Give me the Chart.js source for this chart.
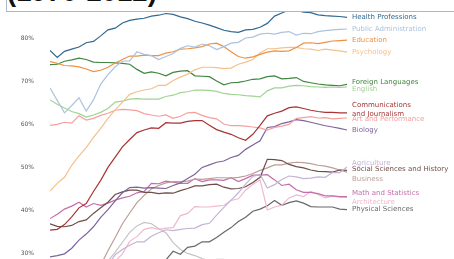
<!DOCTYPE html>
<html>
<head>
<meta charset="utf-8">
<script src="https://cdn.jsdelivr.net/npm/chart.js@4.4.0/dist/chart.umd.min.js"></script>
<style>
  html, body { margin: 0; padding: 0; background: #fff; }
  #wrap { position: relative; width: 454px; height: 259px; overflow: hidden; }
  #chart { display: block; }
  #titleBox { position: absolute; left: 6px; top: -30px; width: 470px; height: 40px; background: #fff; border: 1px solid #a7b9cc; z-index: 2; }
  #titleText { position: absolute; left: 7px; top: -20px; font: bold 27.5px 'Liberation Sans', Arial, sans-serif; line-height: 23px; color: #111; z-index: 3; white-space: nowrap; }
</style>
</head>
<body>
<div id="wrap">
  <canvas id="chart" width="454" height="259"></canvas>
  <div id="titleBox"></div>
  <div id="titleText">(1970-2012)</div>
</div>
<script>
// years 1970..2011
const years = [];
for (let y = 1970; y <= 2011; y++) years.push(y);

const yTicks = [30, 40, 50, 60, 70, 80];

// percent of bachelor's degrees conferred to women, by major
const healthProfessions = [77.1, 75.5, 76.9, 77.4, 77.9, 78.9, 79.2, 80.5, 81.9, 82.3, 83.5, 84.1, 84.4, 84.6, 85.1, 85.3, 85.7, 85.5, 84.9, 84.5, 83.9, 83.5, 83.0, 82.4, 81.8, 81.5, 81.3, 81.9, 82.0, 82.5, 83.4, 85.1, 85.8, 86.5, 86.5, 86.0, 85.9, 85.4, 85.2, 85.1, 85.0, 84.8];
const publicAdministration = [68.4, 65.5, 62.6, 64.3, 66.1, 63.0, 65.6, 69.3, 71.5, 73.3, 74.6, 74.7, 76.8, 76.2, 75.9, 75.0, 75.7, 76.4, 77.6, 78.2, 77.9, 78.6, 78.2, 77.3, 78.0, 78.8, 79.0, 80.0, 80.2, 80.9, 81.1, 80.9, 81.3, 81.5, 80.7, 81.1, 81.0, 81.5, 81.7, 81.9, 82.0, 82.1];
const education = [74.5, 74.1, 73.6, 73.5, 73.3, 72.8, 72.2, 72.5, 73.2, 74.2, 75.0, 75.8, 75.8, 76.0, 75.9, 75.9, 76.5, 76.8, 77.4, 77.5, 77.7, 78.0, 78.6, 78.8, 78.0, 76.8, 75.7, 75.3, 75.6, 76.2, 76.7, 77.0, 76.9, 77.0, 77.8, 78.8, 78.9, 78.7, 79.0, 79.3, 79.4, 79.5];
const psychology = [44.4, 46.2, 47.6, 50.4, 52.6, 54.5, 56.9, 59.0, 61.3, 63.3, 65.1, 66.9, 67.5, 67.9, 68.2, 69.0, 69.0, 70.1, 70.9, 71.6, 72.6, 73.2, 73.2, 73.1, 72.9, 73.0, 73.9, 74.4, 75.0, 76.5, 77.5, 77.5, 77.7, 77.8, 77.8, 77.5, 77.4, 77.1, 77.4, 77.2, 77.0, 76.7];
const foreignLanguages = [73.8, 73.9, 74.6, 74.9, 75.3, 75.0, 74.4, 74.3, 74.3, 74.2, 74.1, 73.9, 72.7, 71.8, 72.1, 71.8, 71.2, 72.0, 72.3, 72.4, 71.2, 71.1, 71.0, 70.0, 69.1, 69.6, 69.7, 70.0, 70.4, 70.5, 71.0, 71.2, 70.5, 70.6, 70.8, 69.9, 69.6, 69.3, 69.1, 69.0, 68.9, 69.2];
const english = [65.6, 64.6, 63.7, 62.9, 62.4, 61.6, 62.1, 62.7, 63.6, 65.1, 65.3, 65.8, 65.9, 65.8, 65.8, 65.8, 66.4, 66.7, 67.3, 67.5, 67.9, 67.9, 67.8, 67.6, 67.1, 66.9, 66.8, 66.6, 66.5, 66.3, 67.7, 68.4, 68.4, 68.8, 69.0, 68.9, 68.7, 68.6, 68.5, 68.6, 68.5, 68.6];
const communications = [35.3, 35.5, 36.6, 38.4, 40.5, 41.5, 44.3, 46.9, 49.9, 52.3, 54.7, 56.4, 58.0, 58.6, 59.1, 59.0, 60.3, 60.2, 60.2, 60.6, 60.8, 60.8, 59.7, 58.7, 58.1, 57.6, 56.8, 56.2, 57.6, 59.7, 61.9, 62.5, 63.0, 63.8, 64.0, 63.6, 63.2, 62.9, 62.7, 62.7, 62.6, 62.6];
const artPerformance = [59.7, 59.9, 60.4, 60.2, 61.9, 60.9, 61.3, 62.0, 62.5, 63.2, 63.4, 63.3, 63.1, 62.4, 62.1, 61.8, 62.1, 61.3, 61.8, 62.6, 62.7, 62.0, 61.5, 61.2, 60.0, 59.6, 59.6, 59.5, 59.3, 59.1, 58.6, 59.2, 59.5, 59.9, 61.3, 61.5, 61.7, 61.4, 61.5, 61.2, 61.3, 61.4];
const biology = [29.1, 29.4, 29.8, 31.1, 33.0, 34.4, 36.1, 38.3, 40.1, 42.1, 44.0, 45.2, 45.3, 45.1, 45.2, 45.1, 45.0, 45.7, 46.3, 47.3, 48.3, 49.9, 50.5, 51.1, 51.4, 52.2, 52.7, 54.1, 55.1, 56.1, 59.2, 59.4, 60.1, 60.5, 61.0, 60.8, 60.4, 60.0, 59.6, 59.3, 59.0, 58.6];
const agriculture = [4.2, 5.5, 7.4, 9.7, 14.1, 18.3, 22.3, 24.6, 27.1, 29.6, 30.8, 31.8, 32.6, 32.6, 33.9, 34.7, 35.4, 35.2, 35.5, 35.7, 35.8, 36.6, 36.9, 38.8, 40.6, 42.3, 44.0, 46.0, 47.8, 48.3, 45.1, 45.9, 47.1, 47.9, 47.7, 47.3, 47.4, 47.7, 47.6, 48.7, 48.7, 50.0];
const socialSciences = [36.8, 36.2, 36.1, 36.4, 37.3, 37.7, 39.2, 40.5, 41.8, 43.6, 44.2, 44.6, 44.6, 44.1, 44.1, 43.8, 44.0, 43.9, 44.5, 45.0, 45.6, 45.6, 45.9, 46.0, 45.3, 44.9, 45.0, 45.4, 46.4, 47.6, 51.8, 51.7, 51.5, 50.6, 50.1, 49.8, 49.3, 49.0, 48.9, 48.8, 49.3, 49.2];
const business = [9.1, 9.5, 10.6, 12.8, 16.2, 19.7, 23.4, 27.2, 30.5, 33.6, 36.8, 39.3, 41.7, 43.4, 44.9, 45.7, 46.3, 46.6, 46.6, 46.7, 47.2, 47.1, 47.3, 47.5, 47.5, 47.4, 47.6, 47.9, 48.5, 49.2, 49.8, 50.5, 50.5, 50.9, 51.1, 51.0, 50.8, 50.4, 50.2, 49.8, 49.3, 48.8];
const mathStatistics = [38.0, 39.0, 40.2, 40.9, 41.8, 40.7, 41.5, 41.1, 41.6, 42.3, 42.8, 43.2, 44.0, 44.3, 46.2, 46.1, 46.7, 46.5, 46.2, 46.2, 47.3, 46.6, 47.0, 47.0, 46.9, 47.5, 46.6, 47.3, 48.1, 48.1, 48.2, 47.0, 45.7, 46.0, 44.7, 44.1, 44.1, 43.8, 43.3, 43.3, 43.1, 43.1];
const architecture = [11.9, 12.0, 13.2, 14.8, 17.4, 19.1, 21.4, 23.7, 25.8, 28.1, 29.8, 32.7, 33.8, 35.5, 35.9, 35.5, 35.8, 35.9, 38.7, 39.2, 40.8, 40.7, 40.7, 40.9, 41.1, 42.2, 42.6, 44.6, 46.0, 47.0, 40.0, 40.7, 41.1, 42.8, 43.5, 43.1, 44.3, 43.6, 42.8, 43.2, 43.0, 42.9];
const physicalSciences = [13.8, 14.9, 14.8, 16.5, 18.2, 19.1, 20.0, 21.3, 22.5, 23.7, 24.6, 25.7, 27.3, 27.6, 28.0, 27.5, 28.4, 30.4, 29.7, 31.3, 31.6, 32.6, 32.6, 33.6, 34.8, 35.9, 37.3, 38.3, 39.7, 40.2, 41.0, 42.2, 41.1, 41.7, 42.1, 41.6, 40.8, 40.7, 40.7, 40.7, 40.2, 40.1];
const computerScience = [13.6, 13.6, 14.9, 16.4, 18.9, 19.8, 23.9, 25.7, 28.1, 30.2, 32.5, 34.8, 36.3, 37.1, 36.8, 35.7, 34.7, 32.4, 30.8, 29.9, 29.4, 28.7, 28.2, 28.5, 28.5, 27.5, 27.1, 27.1, 26.8, 27.0, 27.7, 27.6, 27.0, 25.1, 22.2, 20.6, 18.6, 17.6, 17.8, 18.1, 17.6, 18.2];
const engineering = [0.8, 1.0, 1.2, 1.6, 2.2, 3.2, 4.5, 6.8, 8.4, 9.4, 10.3, 11.6, 12.4, 13.1, 13.5, 13.5, 13.9, 14.0, 13.9, 14.1, 14.1, 14.0, 14.5, 14.9, 15.7, 16.2, 16.7, 17.6, 18.3, 18.6, 18.4, 19.0, 18.7, 18.8, 18.2, 18.0, 17.4, 17.0, 17.1, 16.8, 17.2, 17.5];

const majors = [
  'Health Professions', 'Public Administration', 'Education', 'Psychology',
  'Foreign Languages', 'English', 'Communications\nand Journalism', 'Art and Performance',
  'Biology', 'Agriculture', 'Social Sciences and History', 'Business',
  'Math and Statistics', 'Architecture', 'Physical Sciences', 'Computer Science', 'Engineering'
];
const series = [
  healthProfessions, publicAdministration, education, psychology,
  foreignLanguages, english, communications, artPerformance,
  biology, agriculture, socialSciences, business,
  mathStatistics, architecture, physicalSciences, computerScience, engineering
];

// tableau 20, a bit washed out like the scan
const colors = [
  'rgb(50,104,145)', 'rgb(172,194,222)', 'rgb(236,146,66)', 'rgb(244,192,140)',
  'rgb(64,134,64)', 'rgb(160,212,146)', 'rgb(168,52,52)', 'rgb(244,160,158)',
  'rgb(124,100,156)', 'rgb(196,180,212)', 'rgb(112,78,72)', 'rgb(188,158,150)',
  'rgb(196,110,170)', 'rgb(240,184,208)', 'rgb(104,104,104)', 'rgb(196,196,196)',
  'rgb(180,180,50)'
];

// nudge overlapping end labels (in % units)
const labelShift = [0, 0, 0, 0, 0.5, -0.5, 0.75, -0.25, 0, 1.0, 0.25, -1.6, 0.75, -1.0, 0, 0.75, -0.25];

const endLabels = {
  id: 'endLabels',
  afterDatasetsDraw(chart) {
    const ctx = chart.ctx;
    const xs = chart.scales.x, ys = chart.scales.y;
    ctx.save();
    ctx.font = '7px "DejaVu Sans"';
    ctx.textBaseline = 'middle';
    ctx.textAlign = 'left';
    series.forEach((s, i) => {
      const last = s[s.length - 1];
      const x = xs.getPixelForValue(years[years.length - 1]) + 5;
      const y = ys.getPixelForValue(last + labelShift[i]);
      const lines = majors[i].split('\n');
      ctx.fillStyle = colors[i];
      lines.forEach((t, k) => {
        ctx.fillText(t, x, y + (k - (lines.length - 1) / 2) * 8.5);
      });
    });
    ctx.restore();
  }
};

new Chart(document.getElementById('chart'), {
  type: 'line',
  data: {
    labels: years,
    datasets: series.map((s, i) => ({
      label: majors[i],
      data: s.map((v, k) => ({ x: years[k], y: v })),
      borderColor: colors[i],
      borderWidth: 1.2,
      pointRadius: 0,
      tension: 0,
      fill: false
    }))
  },
  options: {
    responsive: false,
    animation: false,
    layout: { padding: { left: 0, right: 107, top: 0, bottom: 0 } },
    plugins: { legend: { display: false }, tooltip: { enabled: false }, title: { display: false } },
    scales: {
      x: { type: 'linear', min: 1970, max: 2011, display: false },
      y: {
        min: 28.6, max: 88.84,
        afterBuildTicks: s => { s.ticks = yTicks.map(v => ({ value: v })); },
        afterFit: s => { s.width = 50; s.paddingTop = 0; s.paddingBottom = 0; },
        border: { display: false },
        grid: { display: false, drawTicks: false },
        ticks: { padding: 16, color: '#555', font: { size: 6, family: 'DejaVu Sans' }, callback: v => v + '%' }
      }
    }
  },
  plugins: [endLabels]
});
</script>
</body>
</html>
